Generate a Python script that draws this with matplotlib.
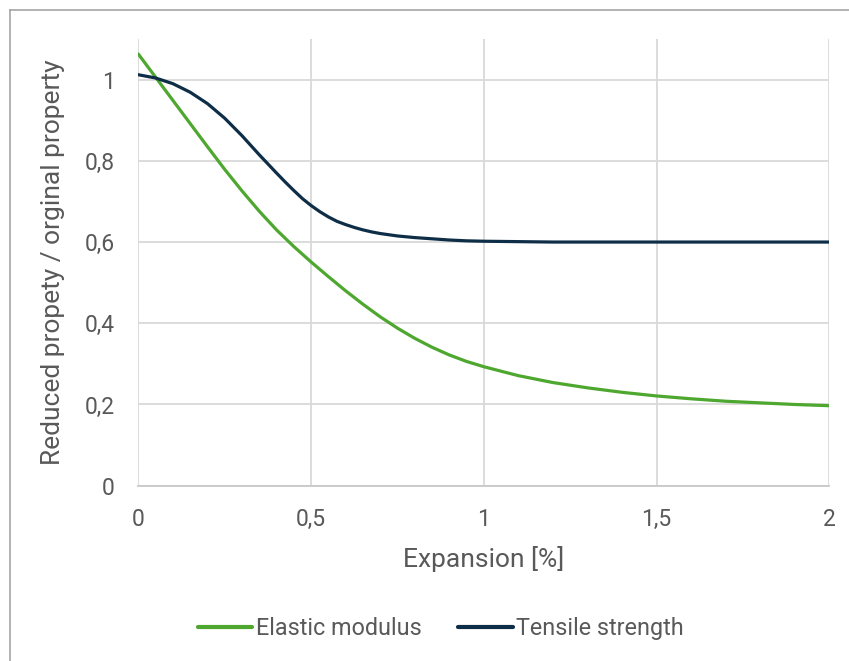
import matplotlib
matplotlib.use("Agg")

import matplotlib.pyplot as plt
from matplotlib.lines import Line2D

# Valores
exp_e = [0, 0.05, 0.1, 0.15, 0.2, 0.25, 0.3, 0.35, 0.4, 0.45, 0.5, 0.55,
         0.6, 0.65, 0.7, 0.75, 0.8, 0.85, 0.9, 0.95, 1.0, 1.1, 1.2, 1.3,
         1.4, 1.5, 1.6, 1.7, 1.8, 1.9, 2.0]
elastic_modulus = [1.063, 1.006, 0.949, 0.892, 0.835, 0.779, 0.726, 0.676,
                   0.630, 0.589, 0.551, 0.515, 0.480, 0.447, 0.416, 0.388,
                   0.363, 0.341, 0.322, 0.306, 0.293, 0.271, 0.254, 0.241,
                   0.230, 0.221, 0.214, 0.208, 0.204, 0.200, 0.197]

exp_t = [0, 0.05, 0.1, 0.15, 0.2, 0.25, 0.3, 0.35, 0.4, 0.425, 0.45, 0.475,
         0.5, 0.525, 0.55, 0.575, 0.6, 0.625, 0.65, 0.675, 0.7, 0.75, 0.8,
         0.85, 0.9, 0.95, 1.0, 1.1, 1.2, 1.5, 2.0]
tensile_strength = [1.012, 1.004, 0.990, 0.969, 0.941, 0.905, 0.862, 0.815,
                    0.770, 0.748, 0.727, 0.707, 0.690, 0.675, 0.662, 0.651,
                    0.643, 0.636, 0.630, 0.625, 0.621, 0.615, 0.611, 0.608,
                    0.605, 0.603, 0.602, 0.601, 0.600, 0.600, 0.600]

x_ticks = [0, 0.5, 1, 1.5, 2]
y_ticks = [0, 0.2, 0.4, 0.6, 0.8, 1]

GREEN = "#4EA72E"
NAVY = "#0E2D47"
GRID = "#D9D9D9"
TEXT = "#595959"

plt.rcParams["font.family"] = ["Roboto", "DejaVu Sans"]

fig = plt.figure(figsize=(8.49, 6.61), dpi=100)
ax = fig.add_axes([0.1629, 0.2652, 0.8139, 0.6758])

ax.plot(exp_e, elastic_modulus, color=GREEN, lw=2.3,
        solid_capstyle="round", solid_joinstyle="round",
        label="Elastic modulus")
ax.plot(exp_t, tensile_strength, color=NAVY, lw=2.3,
        solid_capstyle="round", solid_joinstyle="round",
        label="Tensile strength")

ax.set_xlim(0, 2)
ax.set_ylim(0, 1.1)
ax.set_xticks(x_ticks)
ax.set_yticks(y_ticks)
fmt = lambda v: f"{v:g}".replace(".", ",")
ax.set_xticklabels([fmt(v) for v in x_ticks])
ax.set_yticklabels([fmt(v) for v in y_ticks])
ax.tick_params(length=0, labelsize=16.5, labelcolor=TEXT)
ax.tick_params(axis="x", pad=16)
ax.tick_params(axis="y", pad=17)

ax.grid(True, color=GRID, lw=1.3)
ax.set_axisbelow(True)
for side in ["top", "right", "left"]:
    ax.spines[side].set_visible(False)
ax.spines["bottom"].set_color("#C8C8C8")
ax.spines["bottom"].set_linewidth(1.3)

ax.set_xlabel("Expansion [%]", fontsize=19, color=TEXT, labelpad=11)
ax.set_ylabel("Reduced propety / orginal property", fontsize=19,
              color=TEXT, labelpad=14)

handles = [Line2D([], [], color=GREEN, lw=3, solid_capstyle="round"),
           Line2D([], [], color=NAVY, lw=3, solid_capstyle="round")]
fig.legend(handles, ["Elastic modulus", "Tensile strength"],
           loc="center", bbox_to_anchor=(0.519, 0.049), ncol=2, frameon=False,
           fontsize=16.8, labelcolor=TEXT, handlelength=2.35,
           handletextpad=0.15, columnspacing=1.55)

# borde gris del área del gráfico (solo arriba e izquierda visibles)
fig.add_artist(Line2D([9.5 / 849, 1], [1 - 9.5 / 661, 1 - 9.5 / 661],
                      transform=fig.transFigure, color="#A6A6A6", lw=1.2))
fig.add_artist(Line2D([9.5 / 849, 9.5 / 849], [0, 1 - 9.5 / 661],
                      transform=fig.transFigure, color="#A6A6A6", lw=1.2))

fig.savefig("out.png", dpi=100)
